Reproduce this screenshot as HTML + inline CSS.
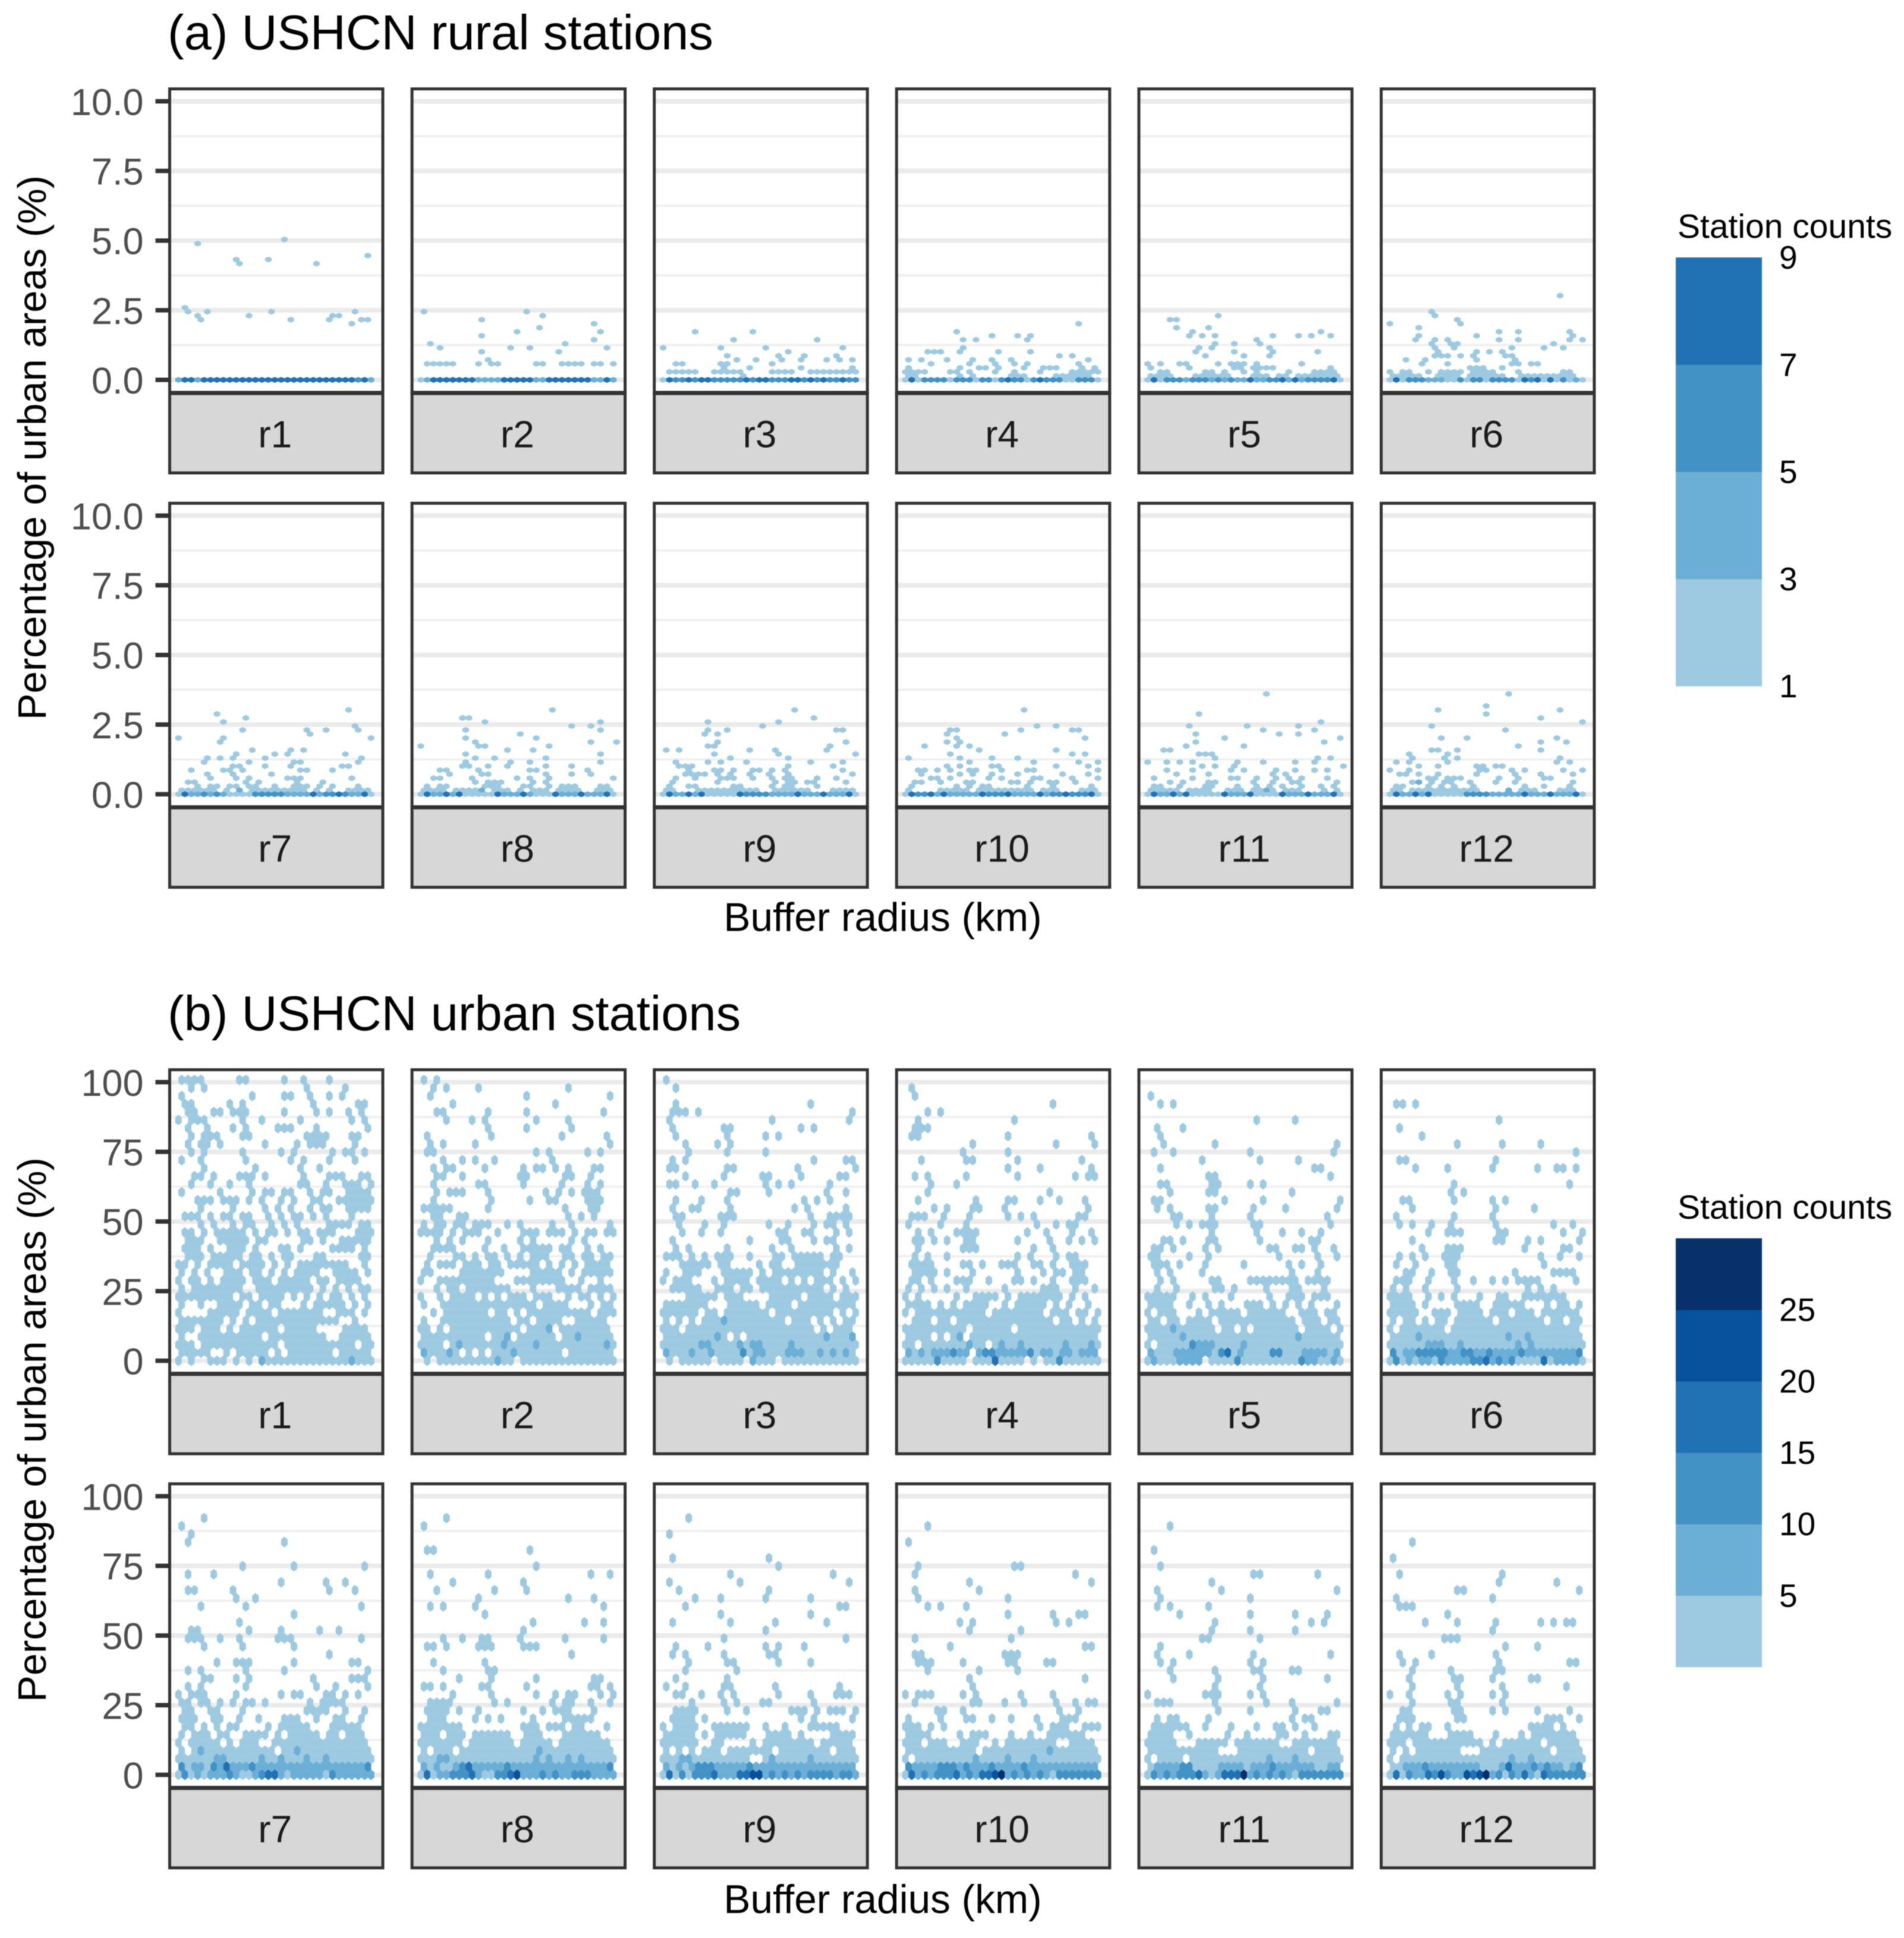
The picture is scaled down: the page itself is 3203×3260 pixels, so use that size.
<!DOCTYPE html>
<html lang="en">
<head>
<meta charset="utf-8">
<title>USHCN rural and urban stations: percentage of urban areas by buffer radius</title>
<style>
html,body{margin:0;padding:0;background:#fff;}
svg{display:block;font-family:"Liberation Sans",Arial,sans-serif;filter:blur(0.7px);}
</style>
</head>
<body>
<svg id="chart" xmlns="http://www.w3.org/2000/svg" width="3203" height="3260" viewBox="0 0 3203 3260">
<rect x="0" y="0" width="3203" height="3260" fill="#fff"/>
<text x="282" y="83" font-size="83" fill="#000">(a) USHCN rural stations</text>
<text x="282" y="1733" font-size="83" fill="#000">(b) USHCN urban stations</text>
<text transform="translate(77,753) rotate(-90)" text-anchor="middle" font-size="67" fill="#000">Percentage of urban areas (%)</text>
<text transform="translate(77,2405) rotate(-90)" text-anchor="middle" font-size="67" fill="#000">Percentage of urban areas (%)</text>
<text x="1485" y="1566" text-anchor="middle" font-size="67.5" fill="#000">Buffer radius (km)</text>
<text x="1485" y="3218" text-anchor="middle" font-size="67.5" fill="#000">Buffer radius (km)</text>
<text x="2822" y="400" font-size="57" fill="#000">Station counts</text>
<text x="2822" y="2050" font-size="57" fill="#000">Station counts</text>
</svg>
<script>
/* ---------- scale data ---------- */
const panelLabelsTop = ["r1","r2","r3","r4","r5","r6"];
const panelLabelsBottom = ["r7","r8","r9","r10","r11","r12"];
const ruralTicks = [0,2.5,5,7.5,10];
const ruralTickLabels = ["0.0","2.5","5.0","7.5","10.0"];
const ruralMinor = [1.25,3.75,6.25,8.75];
const urbanTicks = [0,25,50,75,100];
const urbanTickLabels = ["0","25","50","75","100"];
const urbanMinor = [12.5,37.5,62.5,87.5];
const ruralRowValues = [0,0.144,0.288,0.432,0.576,0.72,0.864,1.008,1.152,1.296,1.44,1.584,1.728,1.872,2.016,2.16,2.304,2.448,2.592,2.736,2.88,3.024,3.168,3.312,3.456,3.6,3.744,3.888,4.032,4.176,4.32,4.464,4.608,4.752,4.896,5.04];
const urbanRowValues = [0,2.88,5.76,8.64,11.52,14.4,17.28,20.16,23.04,25.92,28.8,31.68,34.56,37.44,40.32,43.2,46.08,48.96,51.84,54.72,57.6,60.48,63.36,66.24,69.12,72,74.88,77.76,80.64,83.52,86.4,89.28,92.16,95.04,97.92,100.8];
const binColors = ["#9ecae1","#6baed6","#4292c6","#2171b5","#08519c","#08306b"];
const legendRuralBreaks = [1,3,5,7,9];
const legendRuralLabels = ["1","3","5","7","9"];
const legendUrbanBreaks = [0,5,10,15,20,25,30];
const legendUrbanLabels = ["5","10","15","20","25"];
const legendUrbanLabelValues = [5,10,15,20,25];

/* Hex bins: [row, col, col, ...]; a negative col means "through that col".
   Levels: [row, colourClass, col, ...] override class 1 for those bins. */
const ruralR1 = [[35,16],[34,3],[31,29],[30,9,14],[29,9,21],[18,1],[17,1,4,14,27],[16,3,11,24,25],[15,3,17,23,28,29],[14,27],[0,0,-30]];
const ruralR1Levels = [[0,4,1,2,4,-27,29],[0,2,0,3,30],[0,3,28]];
const ruralR2 = [[17,0,16],[16,19],[15,9],[14,27],[13,18],[12,15,28],[11,9],[10,27],[9,1,22],[8,3,14,17,29],[7,9,21],[5,10],[4,1,-5,9,11,12,18,19,22,-25,27,28,30],[0,0,-30]];
const ruralR2Levels = [[0,4,2,-8,13,-17,20,-26,29],[0,2,1,9,-12,18,19,27,28,30]];
const ruralR3 = [[12,5,14],[10,11,24],[8,0,9,16,28],[7,19],[6,10,18,22,27],[5,11,14,18,21,25,27,29],[4,2,3,9,10,17],[3,9,13,21,29],[2,1,-5,8,-12,17,-20,23,-30],[1,12],[0,0,-30]];
const ruralR3Levels = [[0,3,1,-30],[0,4,1,4,6,7,13,15,16,20,21,23,25,28]];
const ruralR4 = [[14,27],[12,8],[11,13,17,19],[10,9,11,19],[8,9],[7,3,-5,8,14,19],[6,24,26],[5,0,2,6,10,13,16,28],[4,4,10,14,17,19,27],[3,0,8,11,12,14,18,21,-23,27,29],[2,0,-3,7,8,10,14,17,21,26,-30],[1,0,1,8,10,16,-18,23,-28],[0,0,-30]];
const ruralR4Levels = [[0,3,1,3,-6,8,-10,12,13,15,-18,20,-24,27,-29],[0,4,1,16,21]];
const ruralR5 = [[16,11],[15,3,4],[13,4,9],[12,7,27],[11,6,8,10,19,23,25,28],[10,17],[9,10,13,17],[8,8,10,19],[7,7,13,19,26],[6,9,15,19],[4,0,2,5,6,11,13,-15,17,24],[3,0,6,13,14,16,-19,28],[2,2,3,9,10,12,15,17,22,26,-29],[1,0,-3,7,-12,16,-18,20,21,23,-29],[0,0,-30]];
const ruralR5Levels = [[0,3,3,-5,7,-9,11,13,19,20,25,-28],[0,4,1,16,21,23,29],[0,2,6,10,12,14,15,17,18,22,24]];
const ruralR6 = [[21,26],[17,6],[16,7],[15,10],[14,0,11],[13,4],[12,17,20,28],[11,4,13,28],[10,4,7,9,17,20,28,30],[9,6,9,10,25],[8,7,10,19,24,27],[7,7,13,15,17],[6,7,-9,11,13,18,19],[5,2,5,13,19],[4,5,9,19,20,22,23],[3,12,-14,17],[2,0,2,3,6,8,-11,13,-16,20,27,28],[1,0,-4,7,-10,12,-16,17,20,-28],[0,0,-30]];
const ruralR6Levels = [[0,3,3,-5,11,13,14,16,-18,19,22,27],[0,4,1,21,23,25],[0,2,6,-8,29]];
const ruralR7 = [[21,26],[20,6],[19,10],[18,7],[17,27],[16,10,20,23,28],[15,20],[14,0,7,30],[13,6],[11,11,17,19],[10,9,15,17,26],[9,4,6,8,13,28],[8,4,11,18,19,28],[7,8,9,13,17,25,26],[6,2,7,8,10,19,20,24],[5,4,8,14],[4,5,9,11,17,-19,27],[3,1,2,10,12,18,22],[2,3,5,6,8,9,11,12,15,18,-20,22,24,28],[1,0,-5,7,9,11,-19,21,23,26,-29],[0,0,-30]];
const ruralR7Levels = [[1,2,9],[0,4,1,21,25,29],[0,3,4,6,12,-16,23,24,26],[0,2,2,3,5,7,17,-20,22,27,28]];
const ruralR8 = [[21,20],[19,6,7],[18,10,28],[17,23,26],[16,7,28],[15,15],[14,7,18],[13,8,26,30],[12,0,9,10,20],[11,13,17],[10,7,28],[9,8,11,19],[8,7,14,17,28],[7,6,7,10,13,19,23],[6,3,4,9,17,18,26],[5,4,9,10,19,23,26],[4,2,3,8,15,17,20,30],[3,8,10,-12,17,19],[2,1,3,4,10,-12,16,17,20,22,-24,28,29],[1,0,-3,5,-9,11,-13,15,17,-19,21,-24,27,-29],[0,0,-30]];
const ruralR8Levels = [[1,2,9],[0,4,1,4,6,12,16,21,25,29],[0,2,2,3,5,13,-15,17,22,-24,26,-28]];
const ruralR9 = [[21,20],[19,23],[18,7,18],[17,15],[16,7,10,27,28],[15,6,8],[13,8,28],[12,7,8,26],[11,0,2,13,17,25],[10,8,18,30],[9,10,19],[8,2,7,9,13,23,28],[7,2,3,4,19,26],[6,4,8,9,11,14,15,17,19,28],[5,3,-6,8,10,13,16,19,29],[4,2,5,9,-11,14,17,19,20,24,27],[3,1,8,17,19,20,22,23,28],[2,1,4,5,11,12,17,19,20,24],[1,0,1,5,-14,17,18,-22,26,-29],[0,0,-30]];
const ruralR9Levels = [[0,4,1,4,6,12,21,25,29],[0,3,13,-16],[0,2,2,3,5,17,-20,22,-24,26,-28]];
const ruralR10 = [[21,18],[17,20,23],[16,7,8,18,26,27],[15,6,15],[14,8,28],[13,6,8],[12,3,8,10],[11,11,23],[10,7,26,28],[9,0,8,13,17],[8,10,20,27,30],[7,6,8,13,14,23,28],[6,2,3,5,7,10,11,15,19,20,30],[5,2,8,10,13,17,24,28],[4,4,5,7,13,15,20,21,26,30],[3,1,2,5,9,10,16,17,19,22,23,26],[2,1,8,10,12,13,19,23,29],[1,0,5,-9,11,-13,14,-19,21,-23,27,-29],[0,0,-30]];
const ruralR10Levels = [[0,4,1,4,6,12,16,21,25,29],[0,3,2,3,13,-15,23,24,26,-28],[0,2,5,7,-11,17,-20,22]];
const ruralR11 = [[25,18],[20,8],[18,27],[17,6,15,23],[16,18,26],[15,7,20,23],[14,12,30],[13,7,27],[12,6,15],[11,2,3],[10,8,-10],[9,10,26,28],[8,0,3,5,7,14,18,23,26],[7,8,10,13,30],[6,3,7,13,15,20,23,26,28],[5,4,9,19,21],[4,1,7,13,14,17,20,22,24,28],[3,3,5,9,10,16,19,22,23,29],[2,1,2,5,9,10,14,17,19,21,24,27,29],[1,0,-4,6,-9,12,-14,16,-19,21,-23,27,29],[0,0,-30]];
const ruralR11Levels = [[1,2,18],[0,4,1,4,6,12,16,21,25,29],[0,2,2,3,5,13,-15,22,-24,26,-28]];
const ruralR12 = [[25,18],[22,15],[21,7,26],[20,15],[19,23],[18,30],[17,6],[16,18],[14,8,12,26],[13,23,27],[12,20],[11,6,7,10,23],[10,3,9],[9,3,8,10,26],[8,1,3,9,26,28],[7,4,7,13,14,16,17],[6,0,3,14,15,19,21,27,30],[5,1,2,4,7,13,19,23,28],[4,6,7,9,-11,17,20,24,25],[3,3,4,6,8,9,12,16,19,28],[2,1,2,6,8,10,13,21,24,28],[1,0,1,3,-13,18,20,-22,26,-28],[0,0,-30]];
const ruralR12Levels = [[1,2,18],[3,2,4],[0,4,1,4,6,21,25,29],[0,3,12,-15],[0,2,2,3,5,16,-20,22,-24,26,-28]];

const urbanR1 = [[35,0,-3,9,10,16,19,23],[34,2,4,20,26],[33,0,11,16,17,20,23,25],[32,1,2,8,10,21,28,29],[31,1,2,5,6,8,-10,16,21,23,26,28],[30,0,2,-4,10,13,19,27,29],[29,1,4,8,10,15,-17,21,29],[28,2,4,-6,10,11,20,-23,27,28],[27,1,3,4,6,13,18,20,-22,27],[26,2,4,10,16,18,24,26,27,29],[25,0,3,10,17,19,23,27],[24,4,12,19,22],[23,2,3,5,9,-11,13,19,23,-25,28,29],[22,2,5,8,11,19,20,23,26,-28,30],[21,0,6,11,13,14,16,17,20,22,23,26,-29],[20,3,-5,7,-9,11,13,16,18,21,22,25,-30],[19,3,8,13,15,17,20,22,23,26,-29],[18,1,-3,5,7,8,10,11,14,16,18,19,21,23,27],[17,3,5,8,10,11,14,16,18,23,-26,28,29],[16,1,2,4,6,-10,12,14,15,17,19,20,22,-24,28,-30],[15,1,-3,6,-10,12,13,19,20,22,25,-28,29],[14,1,-3,5,8,-10,12,16,17,19,24,-27,29],[13,1,-3,5,-9,11,12,14,16,17,21,22,28,29],[12,0,1,3,5,-8,10,-13,15,17,19,-26,29],[11,0,2,4,7,-9,11,12,14,16,18,-21,24,-27,29],[10,0,2,3,5,7,-10,12,-14,16,-20,22,23,25,-28],[9,0,2,-9,12,-20,22,24,26,28,29],[8,0,-8,10,11,13,-16,18,20,22,24,25,27,29],[7,0,3,6,-9,11,12,14,15,19,21,-25,27,29],[6,0,5,-9,11,-14,16,-22,25,-27,29],[5,0,-6,8,10,12,-24,27],[4,0,-2,4,-6,8,10,-15,17,-21,26,-29],[3,0,3,-12,14,-22,25,-29],[2,0,-2,4,-15,17,-27,29,30],[1,0,-4,7,9,-13,15,17,-23,25,-29],[0,0,2,5,-7,9,11,13,-30]];
const urbanR1Levels = [[4,2,25],[0,2,12,13,27]];
const urbanR2 = [[35,0,2],[34,2,4,9,23],[33,1,16,29],[32,5,21],[31,2,3,10,16,28],[30,4,8,10,18,23],[29,10,16,23],[28,1,11,22,29],[27,1,3,8,29],[26,1,2,18,20,26,28],[25,3,6,8,11,20],[24,2,4,5,10,16,18,19,21,23,27,28],[23,2,3,6,15,16,22,23,26],[22,2,9,10,16,22,26,28],[21,2,4,-6,10,19,21,23,25,-27],[20,2,11,17,20,21,26,-28],[19,0,-4,10,22,26,27],[18,2,3,6,7,23,25,27],[17,0,2,3,5,6,8,-10,13,15,20,23,29],[16,0,-3,5,7,-9,12,16,-18,20,-22,24,26,27,29,30],[15,2,4,6,10,15,17,23,25],[14,2,-5,10,13,16,-20,22,23,26,28],[13,1,5,6,8,10,11,13,15,17,-19,22,23,25,26,28,29],[12,1,3,-5,7,-9,11,12,14,-18,20,22,24,26,-29],[11,0,1,6,-12,17,-21,23,25,-29],[10,0,3,-11,15,-22,25,28],[9,2,4,5,7,-13,17,21,-24,26,-29],[8,0,3,5,-8,10,12,14,-16,18,-20,23,25,26,28,30],[7,0,3,-17,19,-22,26,28,29],[6,2,4,-10,12,13,15,17,-26,28,-30],[5,0,3,-13,15,16,18,-21,24,-28],[4,0,1,3,5,-15,17,-20,22,-29],[3,0,-9,11,-13,15,-20,22,-29],[2,0,-3,5,-30],[1,0,-5,7,9,11,-21,23,-29],[0,1,3,-14,16,-30]];
const urbanR2Levels = [[4,2,20],[3,2,13,24],[2,2,6,13,18,29],[1,2,0,4,14],[0,2,12]];
const urbanR3 = [[35,0],[34,2],[32,2,23],[31,1,-3,5,29],[30,1,17,29],[29,1,9,10,21,23],[28,2,10,16,18],[27,3,8,10],[26,4,10,16],[25,1,3,23,28,29],[24,1,2,10,11,21,30],[23,3,9,15,16,21,27,28],[22,1,2,5,8,16,18,20,26],[21,10,11,16,25,28],[20,2,6,10,22,24,26],[19,1,4,5,10,20,22,28],[18,2,3,9,-11,23,26,-29],[17,2,6,9,16,19,23,25,26,28],[16,3,6,9,18,19,22,23,27,29],[15,1,13,18,19,23,25,26],[14,2,4,10,17,20,27,29],[13,0,-2,4,6,8,-10,13,17,18,20,-24,26,27],[12,3,-7,9,10,15,17,18,21,-26,27],[11,0,3,-5,9,-13,15,17,-24,26,29],[10,0,2,-4,8,10,11,-13,15,-18,20,22,24,-26,28,30],[9,1,-5,8,-10,12,13,15,-24,26,28],[8,4,-8,10,11,12,17,-21,23,-26,28,-30],[7,0,-6,10,-14,16,-19,21,-29],[6,0,-5,7,8,10,-16,18,-26,28,30],[5,0,2,4,6,-18,20,-22,24,26,28,29],[4,0,-2,4,-23,25,27,-29],[3,0,-9,11,13,-29],[2,0,-30],[1,0,-29],[0,1,3,-7,9,-12,14,-17,19,-30]];
const urbanR3Levels = [[5,2,9],[3,2,8,25,29],[2,2,6,7,12,14,15,20],[1,2,0,4,7,14,15,19,-21,24,26,28],[1,3,12],[0,2,14]];
const urbanR4 = [[34,1],[33,1],[32,23],[31,3,5],[30,2,17],[29,1,-3],[28,1,2,16,29],[27,10,23,29],[26,9,16],[25,2,9,10,17,27],[24,16,21,29],[23,1,3,9,17,26,28,29],[22,4,8],[21,3,22],[20,2,11,16,17,21,24,28],[19,4,6,10,11,15,28],[18,1,-3,6,10,16,18,20,27,28],[17,0,5,9,20,23,25,26],[16,2,4,8,-11,19,22,26,29],[15,1,2,4,6,9,10,17,22,25,27,29],[14,2,9,-11,20,23],[13,1,3,6,17,19,23,25,26],[12,1,-4,9,10,12,15,-17,20,21,23,26,-28],[11,1,-4,6,10,17,21,23,24,26,27],[10,1,2,4,8,-10,13,17,18,20,23,26,-28],[9,0,2,4,6,9,15,21,-23,26,29],[8,0,2,8,11,-14,16,18,-24,26,28],[7,0,-3,5,7,9,-12,15,17,-21,23,25,28],[6,0,2,-12,14,-21,23,-25,27,28,30],[5,1,-3,5,6,8,-22,24,25,27,29],[4,0,-9,11,-16,18,-30],[3,0,-3,5,7,8,10,-29],[2,0,1,3,-12,14,-30],[1,0,-9,11,-29],[0,0,-9,11,-18,20,22,-30]];
const urbanR4Levels = [[3,2,6,8,9],[2,2,10,15,18,25,29],[1,2,0,2,4,-9,11,-19,21,22,24,25,27,-29],[1,3,7,12,13,19],[0,3,5,24],[0,4,14]];
const urbanR5 = [[33,0],[32,2,4],[30,17,23],[29,1,5],[28,2],[27,2,10,29],[26,1,4,16,29],[25,8,17,23],[24,2,26,27],[23,9,10,28],[22,2,3,10,11,16,18],[21,3,9,10,22],[20,1,2,12,18,30],[19,1,3,9,10,16,21,29],[18,4,5,10,16,28],[17,4,6,8,-10,16,17,28],[16,10,17,21,24,27],[15,2,3,5,9,10,17,25,26],[14,1,2,4,9,11,19,20,23,24,26,29],[13,0,1,6,9,20,26,29],[12,1,-3,5,9,15,22,24,27],[11,1,3,8,22,26],[10,2,4,10,11,16,-23,25,-28],[9,1,4,10,11,13,18,22,23,27],[8,0,-4,7,9,13,19,22,-24,26,-28],[7,0,-3,6,9,11,15,-17,19,21,23,25,29],[6,0,2,-4,8,10,-14,16,-21,24,-26,28,29],[5,0,1,3,4,6,-9,11,-22,24,-26,28,29],[4,0,-10,12,13,15,17,-23,25,-28,30],[3,0,-29],[2,0,2,-30],[1,0,-29],[0,0,-8,10,-30]];
const urbanR5Levels = [[4,2,4],[3,2,5,23],[2,3,7],[2,2,8,-10,15],[1,2,0,4,-9,14,24,-27,29],[1,3,11,19,20],[1,4,12],[0,2,1,5,-8,25,26,29],[0,3,14,24]];
const urbanR6 = [[32,1,2,4],[30,17],[29,1],[28,5],[27,10,17,23],[26,29],[25,1,2,16],[24,4,9,16,23,26,27,29],[22,10,28],[21,9,11],[20,2,3,10,16,18],[19,3,16,22],[18,1,10,16],[17,1,3,6,9,16,25,28],[16,6,9,-11,17,18,27,30],[15,3,16,17,21,23,29],[14,5,9,-11,21,27,28],[13,1,3,5,8,-10,23,26,29],[12,1,4,9,10,24],[11,2,3,6,9,10,19,25,-28],[10,1,-3,6,10,13,16,18,20,-23,29],[9,0,2,5,10,21,23,25],[8,0,-3,6,8,10,14,17,18,21,-27],[7,0,-3,5,10,-13,16,-20,24,26,27,29],[6,0,-4,7,-9,11,-14,16,-18,20,-22,24,-29],[5,0,2,3,5,7,8,10,-15,17,-23,25,26,28,29],[4,0,2,-8,10,-29],[3,0,-29],[2,0,-30],[1,0,-29],[0,0,-30]];
const urbanR6Levels = [[3,2,4,18,21],[2,2,6,-8,11,20,22],[1,2,2,-29],[1,3,0,4,-8,11,12,15,20,29],[0,2,3,5,6,9,-12,16,18,26,-29],[0,3,1,8,13,14,17,19],[0,4,15,24]];
const urbanR7 = [[32,4],[31,0],[30,2],[29,1,16],[26,10,18,29],[25,1,5],[24,16,23,26],[23,1,2,8,23,27],[22,9,12],[21,3,10,28],[20,18],[19,9],[18,2,3,11,16,22,25],[17,1,-3,6,9,15,-17,28],[16,4,10,18],[15,23],[14,6,9,-11,18,27,28],[13,1,3,10,16,29],[12,4,5,9,11,21,27,-29],[11,1,3,10,21,24,29],[10,0,2,-4,9,16,18,19,23,24,26,28],[9,0,1,3,4,6,8,10,11,13,20,22,-25],[8,1,2,5,6,10,20,-23,26,29],[7,0,1,2,5,6,9,12,16,-18,21,24,25,28],[6,1,2,4,6,8,9,14,16,-20,24,-28],[5,0,2,-4,6,7,10,-13,15,17,-21,23,24,26,-28],[4,0,2,-6,8,10,-12,15,-29],[3,0,2,-14,16,-29],[2,0,-30],[1,0,-29],[0,0,-30]];
const urbanR7Levels = [[3,2,3,18],[2,2,6,7,13,16,20,23],[1,2,2,3,5,-29],[1,3,0,5,11,29],[1,4,7],[0,2,3,5,-7,9,12,16,18,-22,25,-30],[0,3,1,8,13,24],[0,4,14,15]];
const urbanR8 = [[32,4],[31,0],[28,1,2,17],[26,18],[25,1,10,26,29],[24,5,16],[23,2,11,16],[22,9,23,27],[21,1,3,8,28],[20,10],[19,17,25,28],[18,16],[17,3,6,9,10,15,22,28],[16,1,2,4,9,-11,16,-18],[15,23],[14,2,10],[13,3,10,11],[12,6,11,18,27,28],[11,0,1,3,9,10,16,26,27,29],[10,5,11,18,21,23,24,28,30],[9,1,-4,11,13,20,22,23,26,29],[8,1,-4,6,9,16,19,21,-23,27],[7,1,-3,8,10,12,17,22,-26],[6,0,-6,16,-18,20,-22,24,25,29],[5,0,-2,4,-6,8,-13,16,-18,22,-27],[4,0,-6,8,-14,16,-20,22,-29],[3,0,2,-4,6,-29],[2,0,-30],[1,0,-29],[0,0,-30]];
const urbanR8Levels = [[3,2,18],[2,2,3,4,18,20,23,25],[1,2,0,2,5,-29],[1,3,6,13,29],[1,4,7],[0,2,3,4,9,16,-18,20,22,23,27,-30],[0,3,5,6,7,12,13,19,21,24,-26],[0,4,1,8,14],[0,5,15]];
const urbanR9 = [[32,4],[30,1],[27,1,16],[26,18],[25,10,26],[24,1,12,29],[23,2,16],[22,5,9,16,23],[21,3,27,28],[20,9,23],[19,1,10,17,25],[18,16],[17,9,28],[16,2,7,16,18,22],[15,1,3,9,16,17],[14,4,10,11,18,23],[13,3,11],[12,2,10],[11,0,3,9,10,17,27],[10,2,3,6,9,11,18,23,27,-29],[9,4,9,11,15,16,23],[8,2,-5,10,13,20,-22,24,26,-28,30],[7,1,-4,6,21,23,29],[6,0,2,-5,8,-13,16,19,23,-27],[5,0,-4,6,8,-12,16,-19,21,26,-29],[4,0,-5,8,9,14,16,-23,25,-29],[3,0,2,4,6,-8,10,-16,18,-25,27,-29],[2,0,-13,16,-30],[1,0,-29],[0,0,-30]];
const urbanR9Levels = [[2,2,3,4,17,23],[1,2,0,2,4,-29],[1,3,5,-7,13],[0,2,9,-11,16,18,20,22,27,30],[0,3,3,5,6,7,17,19,21,23,-26,28,29],[0,4,1,8,12,13],[0,5,14,15]];
const urbanR10 = [[31,3],[29,0],[26,2,17,18],[25,1,26],[24,10,29],[23,1,11],[22,2,16],[21,3,5,9],[20,16,23,27,28],[19,8,10,23,25],[18,10,18],[17,1,16],[16,7,28,29],[15,1,2,15,-17],[14,2,-4,9,16,17,22,23],[13,3,11,17],[12,10,28],[11,10],[10,0,2,-4,9,11,18,23],[9,1,10,11,15,18,23,26,28,29],[8,5,6,9,24,27],[7,0,5,9,10,13,16,20,24,-26],[6,0,1,2,4,6,21,23,-25,28,-30],[5,0,-3,8,10,-12,16,19,22,-27],[4,0,1,2,4,-6,9,-11,14,16,-23,26,-29],[3,0,-10,12,-29],[2,0,2,-30],[1,0,-29],[0,0,-30]];
const urbanR10Levels = [[3,2,22],[2,2,11,16,20],[1,2,0,-29],[1,3,0,5,-7,9,13,18],[0,2,2,4,9,11,16,18,20,22],[0,3,3,5,-7,10,17,19,21,24,-30],[0,4,1,8,12,13],[0,5,14],[0,6,15]];
const urbanR11 = [[31,3],[28,1],[26,2],[25,16,17,26],[24,10],[23,1,11,29],[22,2,16],[21,1,3,9],[20,5,16,23,28],[19,10,25,27],[18,10,16,23],[17,8,9,17],[16,2],[15,1,6,16,28],[14,2,4,16,18],[13,3,10,16,17,22,23],[12,4,11,18,28],[11,10,17],[10,0,9,-11,16,18],[9,1,-3,10,18,22,29],[8,11,16,23,27,28],[7,1,3,4,9,22,24,25],[6,1,-6,9,13,17,20,21,23,26],[5,0,-3,6,12,15,20,21,24,28,29],[4,0,-4,8,-12,14,-20,23,-29],[3,0,-10,14,-24,26,-29],[2,0,2,-5,7,-30],[1,0,-29],[0,0,-30]];
const urbanR11Levels = [[2,2,19,23],[1,2,1,-6,11,-14,16,-24,25,28,29],[1,3,5,6,19],[0,2,2,4,9,11,16,18,20,22],[0,3,1,3,5,-7,17,19,21,24,-30],[0,4,8,12,13,14],[0,6,15]];
const urbanR12 = [[29,3],[27,0],[25,1,17],[24,17,26],[23,10,11,29],[22,1,16],[21,1,-3],[20,9],[19,5,10,16,23,25,27,28],[18,16],[17,8,-10],[16,18,23],[15,1,6,16],[14,2,4,17,28,29],[13,3,9,16,17],[12,3,10,11,16,22,23],[11,3,10,17,27],[10,0,3,9,11,16,18],[9,3,9,10,17],[8,2,3,10,11,16,18,23,28],[7,1,-3,10,11,24,-26,29],[6,1,3,5,6,9,22,-25,27],[5,0,-5,9,-12,16,20,22,-28],[4,0,-2,4,-7,8,-14,16,18,-23,25,-29],[3,0,2,4,-10,14,-24,26,-29],[2,0,2,-30],[1,0,-29],[0,0,-30]];
const urbanR12Levels = [[2,2,19,22],[1,2,2,-13,17,19,20,21,23,25,26,28],[1,3,5,22,24,29],[1,4,18],[0,2,4,5,10,11,16,20,22],[0,3,3,7,9,17,19,25,-30],[0,4,1,6,13,21,24],[0,5,8,12,14],[0,6,15]];

const ruralPanelBins = [ruralR1,ruralR2,ruralR3,ruralR4,ruralR5,ruralR6,ruralR7,ruralR8,ruralR9,ruralR10,ruralR11,ruralR12];
const ruralPanelLevels = [ruralR1Levels,ruralR2Levels,ruralR3Levels,ruralR4Levels,ruralR5Levels,ruralR6Levels,ruralR7Levels,ruralR8Levels,ruralR9Levels,ruralR10Levels,ruralR11Levels,ruralR12Levels];
const urbanPanelBins = [urbanR1,urbanR2,urbanR3,urbanR4,urbanR5,urbanR6,urbanR7,urbanR8,urbanR9,urbanR10,urbanR11,urbanR12];
const urbanPanelLevels = [urbanR1Levels,urbanR2Levels,urbanR3Levels,urbanR4Levels,urbanR5Levels,urbanR6Levels,urbanR7Levels,urbanR8Levels,urbanR9Levels,urbanR10Levels,urbanR11Levels,urbanR12Levels];

/* ---------- drawing ---------- */
const svg = document.getElementById('chart');
const NS = 'http://www.w3.org/2000/svg';
const panelWidth = 358.5, panelHeight = 511.5, stripBottom = 646, panelStep = 407.6, firstLeft = 285.5;
const zeroOffset = 489.5, binPitch = 10.8, firstBinOffset = 14.7;

function add(parent, tag, attrs, text) {
  const el = document.createElementNS(NS, tag);
  for (const k in attrs) el.setAttribute(k, attrs[k]);
  if (text !== undefined) el.textContent = text;
  parent.appendChild(el);
  return el;
}
function expandCols(list) {
  const out = [];
  for (let i = 0; i < list.length; i++) {
    const v = list[i];
    if (v < 0) { for (let c = out[out.length - 1] + 1; c <= -v; c++) out.push(c); }
    else out.push(v);
  }
  return out;
}
function hexPath(cx, cy, w, h) {
  const a = w / 2, b = h / 2, c = h / 4;
  return 'M' + cx + ' ' + (cy - b) + 'L' + (cx + a) + ' ' + (cy - c) + 'L' + (cx + a) + ' ' + (cy + c) +
         'L' + cx + ' ' + (cy + b) + 'L' + (cx - a) + ' ' + (cy + c) + 'L' + (cx - a) + ' ' + (cy - c) + 'Z';
}
function drawPanel(cfg, col, top, label, bins, levels, showAxis) {
  const left = firstLeft + col * panelStep;
  const yScale = v => top + zeroOffset - v * cfg.pxPerUnit;
  const xScale = (c, row) => left + firstBinOffset + binPitch * (c + (row % 2) / 2);
  const g = add(svg, 'g', {});
  
  

  const strip = add(g, 'rect', {x: left, y: top + panelHeight, width: panelWidth, height: stripBottom - panelHeight, fill: '#d7d7d7', stroke: '#333', 'stroke-width': 5});
  
  
  const stripText = add(g, 'text', {x: left + panelWidth / 2 - 2, y: top + 603, 'text-anchor': 'middle', 'font-size': 64, fill: '#1a1a1a'}, label);
  
  

  const bg = add(g, 'rect', {x: left, y: top, width: panelWidth, height: panelHeight, fill: '#fff'});
  
  

  cfg.minor.forEach(v => {
    const line = add(g, 'line', {x1: left, x2: left + panelWidth, y1: yScale(v), y2: yScale(v), stroke: '#f0f0f0', 'stroke-width': 4});
    
    
  });
  cfg.ticks.forEach((v, i) => {
    const line = add(g, 'line', {x1: left, x2: left + panelWidth, y1: yScale(v), y2: yScale(v), stroke: '#ebebeb', 'stroke-width': 8});
    
    
    if (showAxis) {
      const tick = add(g, 'line', {x1: left - 24, x2: left, y1: yScale(v), y2: yScale(v), stroke: '#333', 'stroke-width': 7.5});
      
      
      const lab = add(g, 'text', {x: left - 44, y: yScale(v) + 23, 'text-anchor': 'end', 'font-size': 63, fill: '#4d4d4d'}, cfg.tickLabels[i]);
      
      
    }
  });

  const levelOf = {};
  levels.forEach(entry => {
    expandCols(entry.slice(2)).forEach(c => { levelOf[entry[0] + ':' + c] = entry[1]; });
  });
  bins.forEach(entry => {
    const row = entry[0];
    expandCols(entry.slice(1)).forEach(c => {
      const level = levelOf[row + ':' + c] || 1;
      const hex = add(g, 'path', {d: hexPath(xScale(c, row), yScale(cfg.rowValues[row]), binPitch + 0.3, cfg.hexHeight), fill: binColors[level - 1]});
      
      
    });
  });

  const border = add(g, 'rect', {x: left, y: top, width: panelWidth, height: panelHeight, fill: 'none', stroke: '#333', 'stroke-width': 5});
  
  
  const divider = add(g, 'line', {x1: left, x2: left + panelWidth, y1: top + panelHeight, y2: top + panelHeight, stroke: '#333', 'stroke-width': 7});
  
  
}

const ruralCfg = {name: 'rural', pxPerUnit: 46.86, ticks: ruralTicks, tickLabels: ruralTickLabels, minor: ruralMinor, rowValues: ruralRowValues, hexHeight: 10};
const urbanCfg = {name: 'urban', pxPerUnit: 4.686, ticks: urbanTicks, tickLabels: urbanTickLabels, minor: urbanMinor, rowValues: urbanRowValues, hexHeight: 18};

function drawGroup(cfg, topA, topB, bins, levels) {
  for (let i = 0; i < 6; i++) drawPanel(cfg, i, topA, panelLabelsTop[i], bins[i], levels[i], i === 0);
  for (let i = 0; i < 6; i++) drawPanel(cfg, i, topB, panelLabelsBottom[i], bins[i + 6], levels[i + 6], i === 0);
}
drawGroup(ruralCfg, 149.5, 846.5, ruralPanelBins, ruralPanelLevels);
drawGroup(urbanCfg, 1799.5, 2496, urbanPanelBins, urbanPanelLevels);

/* ---------- legends ---------- */
function drawLegend(name, top, bottom, breaks, labels, labelValues) {
  const g = add(svg, 'g', {});
  
  
  const lo = breaks[0], hi = breaks[breaks.length - 1];
  const y = v => bottom - (v - lo) / (hi - lo) * (bottom - top);
  for (let i = 0; i < breaks.length - 1; i++) {
    const seg = add(g, 'rect', {x: 2819, y: y(breaks[i + 1]), width: 145, height: y(breaks[i]) - y(breaks[i + 1]) + 0.5, fill: binColors[i]});
    
    
  }
  labelValues.forEach((v, i) => {
    const t = add(g, 'text', {x: 2993, y: y(v) + 19, 'font-size': 55, fill: '#000'}, labels[i]);
    
    
  });
}
drawLegend('rural', 433, 1154, legendRuralBreaks, legendRuralLabels, legendRuralBreaks);
drawLegend('urban', 2083, 2804, legendUrbanBreaks, legendUrbanLabels, legendUrbanLabelValues);
</script>
</body>
</html>
